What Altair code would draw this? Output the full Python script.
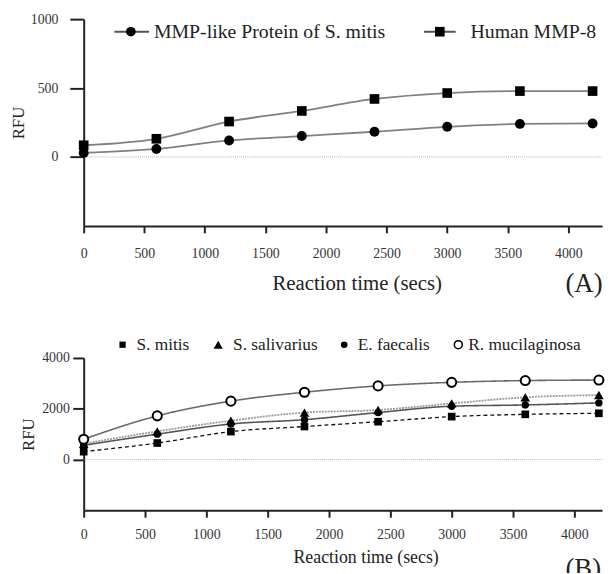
import altair as alt
import pandas as pd

# ---------------- data ----------------
times = [0, 600, 1200, 1800, 2400, 3000, 3600, 4200]

a_series = ["MMP-like Protein of S. mitis", "Human MMP-8"]
a_mmp_like = [29, 58, 120, 152, 183, 219, 240, 243]
a_human_mmp8 = [85, 132, 257, 334, 421, 464, 478, 478]

b_series = ["S. mitis", "S. salivarius", "E. faecalis", "R. mucilaginosa"]
b_s_mitis = [310, 650, 1100, 1300, 1490, 1690, 1780, 1820]
b_s_salivarius = [620, 1110, 1530, 1850, 1950, 2210, 2450, 2540]
b_e_faecalis = [560, 1000, 1400, 1570, 1850, 2100, 2150, 2230]
b_r_mucilaginosa = [800, 1720, 2300, 2650, 2900, 3040, 3110, 3130]

x_ticks = [0, 500, 1000, 1500, 2000, 2500, 3000, 3500, 4000]
a_y_ticks = [0, 500, 1000]
b_y_ticks = [0, 2000, 4000]
panel_labels = ["(A)", "(B)"]
x_title = "Reaction time (secs)"
y_title = "RFU"

FONT = "Liberation Serif"
INK = "#222222"


def to_long(names, lists):
    rows = []
    for name, vals in zip(names, lists):
        for t, v in zip(times, vals):
            rows.append({"series": name, "time": t, "rfu": v})
    return pd.DataFrame(rows)


def x_enc(domain_max, label_pad, title_size, title_pad, title_x):
    return alt.X(
        "time:Q",
        scale=alt.Scale(domain=[0, domain_max], nice=False, zero=False),
        axis=alt.Axis(
            values=x_ticks, format="d", grid=False, title=x_title,
            domainColor=INK, domainWidth=2, tickColor=INK, tickWidth=2, tickSize=7,
            labelFont=FONT, labelFontSize=14, labelColor="#333333", labelPadding=label_pad,
            labelBaseline="middle", labelFlush=False, labelOverlap=False,
            titleFont=FONT, titleFontWeight="normal", titleColor=INK,
            titleFontSize=title_size, titlePadding=title_pad, titleBaseline="middle", titleX=title_x,
        ),
    )


def y_enc(domain, ticks, tick_size, label_pad, title_pad):
    return alt.Y(
        "rfu:Q",
        scale=alt.Scale(domain=domain, nice=False, zero=False),
        axis=alt.Axis(
            values=ticks, format="d", grid=False, title=y_title,
            domainColor=INK, domainWidth=2, tickColor=INK, tickWidth=2, tickSize=tick_size,
            labelFont=FONT, labelFontSize=14, labelColor="#333333", labelPadding=label_pad,
            labelFlush=False, labelOverlap=False,
            titleFont=FONT, titleFontWeight="normal", titleColor=INK, titleFontSize=17,
            titleAngle=270, titlePadding=title_pad, titleBaseline="middle",
        ),
    )


# ---------------- panel A ----------------
WA, HA = 524, 209
dfa = to_long(a_series, [a_mmp_like, a_human_mmp8])
xa = x_enc(4278, 21, 21, 23, 276)
ya = y_enc([-500, 1000], a_y_ticks, 14, 12, 12)

zero_a = alt.Chart(pd.DataFrame({"rfu": [0]})).mark_rule(
    color="#b8b8b8", strokeWidth=1, strokeDash=[1, 1]
).encode(y=ya)

lines_a = alt.Chart(dfa).mark_line(interpolate="monotone", color="#808080", strokeWidth=1.8).encode(
    x=xa, y=ya, detail="series:N",
)

points_a = alt.Chart(dfa).mark_point(filled=True, color="black", opacity=1, strokeWidth=0).encode(
    x=xa, y=ya,
    shape=alt.Shape("series:N", scale=alt.Scale(domain=a_series, range=["circle", "square"]), legend=None),
    size=alt.Size("series:N", scale=alt.Scale(domain=a_series, range=[100, 95]), legend=None),
)

a_leg_pos = [(31, 66, 47.7, 71), (344, 376, 360, 391)]
a_leg_shape = ["circle", "square"]
a_legend_layers = []
for name, (x1, x2, xm, xt), shp in zip(a_series, a_leg_pos, a_leg_shape):
    d = pd.DataFrame({"series": [name]})
    a_legend_layers.append(alt.Chart(d).mark_rule(color="#555555", strokeWidth=2).encode(
        x=alt.value(x1), x2=alt.value(x2), y=alt.value(12.7)))
    a_legend_layers.append(alt.Chart(d).mark_point(shape=shp, filled=True, color="black", opacity=1,
                                                   size=95, strokeWidth=0).encode(
        x=alt.value(xm), y=alt.value(12.7)))
    a_legend_layers.append(alt.Chart(d).mark_text(align="left", baseline="middle", font=FONT, fontSize=20,
                                                  color=INK).encode(
        x=alt.value(xt), y=alt.value(12.7), text="series:N"))

label_a = alt.Chart(pd.DataFrame({"label": [panel_labels[0]]})).mark_text(
    align="left", baseline="middle", font=FONT, fontSize=27, color=INK
).encode(x=alt.value(487), y=alt.value(268), text="label:N")

panel_a = alt.layer(zero_a, lines_a, points_a, *a_legend_layers, label_a).properties(width=WA, height=HA)

# ---------------- panel B ----------------
WB, HB = 524, 154
dfb = to_long(b_series, [b_s_mitis, b_s_salivarius, b_e_faecalis, b_r_mucilaginosa])
xb = x_enc(4226, 17, 18, 17, 285)
yb = y_enc([-2000, 4000], b_y_ticks, 11, 3.5, 13.5)

zero_b = alt.Chart(pd.DataFrame({"rfu": [0]})).mark_rule(
    color="#b8b8b8", strokeWidth=1, strokeDash=[1, 1]
).encode(y=yb)

b_line_colors = ["#111111", "#9a9a9a", "#555555", "#6a6a6a"]
b_line_dash = [[4, 3], [2, 1], [1, 0], [1, 0]]
b_line_width = [1.3, 1.8, 1.6, 1.6]
lines_b = []
for i, name in enumerate(b_series):
    sub = dfb[dfb["series"] == name]
    lines_b.append(alt.Chart(sub).mark_line(
        interpolate="monotone", color=b_line_colors[i], strokeWidth=b_line_width[i], strokeDash=b_line_dash[i]
    ).encode(x=xb, y=yb))

b_shapes = ["square", "triangle-up", "circle", "circle"]
b_sizes = [60, 95, 55, 85]
b_filled = [True, True, True, False]
points_b = []
for i, name in enumerate(b_series):
    sub = dfb[dfb["series"] == name]
    if b_filled[i]:
        m = alt.Chart(sub).mark_point(shape=b_shapes[i], filled=True, color="black", opacity=1,
                                      size=b_sizes[i], strokeWidth=0)
    else:
        m = alt.Chart(sub).mark_point(shape=b_shapes[i], filled=True, fill="white", stroke="black",
                                      strokeWidth=2, opacity=1, size=b_sizes[i])
    points_b.append(m.encode(x=xb, y=yb))

b_leg_pos = [(39.3, 53.3), (136, 151), (263.3, 277), (378.7, 388.7)]
b_leg_sizes = [40, 85, 45, 65]
b_legend_layers = []
for i, name in enumerate(b_series):
    d = pd.DataFrame({"series": [name]})
    xm, xt = b_leg_pos[i]
    if b_filled[i]:
        m = alt.Chart(d).mark_point(shape=b_shapes[i], filled=True, color="black", opacity=1,
                                    size=b_leg_sizes[i], strokeWidth=0)
    else:
        m = alt.Chart(d).mark_point(shape=b_shapes[i], filled=True, fill="white", stroke="black",
                                    strokeWidth=1.6, opacity=1, size=b_leg_sizes[i])
    b_legend_layers.append(m.encode(x=alt.value(xm), y=alt.value(-13.4)))
    b_legend_layers.append(alt.Chart(d).mark_text(align="left", baseline="middle", font=FONT, fontSize=17.5,
                                                  color=INK).encode(
        x=alt.value(xt), y=alt.value(-13.4), text="series:N"))

label_b = alt.Chart(pd.DataFrame({"label": [panel_labels[1]]})).mark_text(
    align="left", baseline="middle", font=FONT, fontSize=27, color=INK
).encode(x=alt.value(487), y=alt.value(213), text="label:N")

panel_b = alt.layer(zero_b, *lines_b, *points_b, *b_legend_layers, label_b).properties(width=WB, height=HB)

chart = alt.vconcat(panel_a, panel_b, spacing=38.5).configure_view(stroke=None).properties(
    padding={"left": 1.5, "top": 1.2, "right": 0, "bottom": -12}
)

chart.save("out.html", embed_options={"renderer": "svg", "actions": False})
